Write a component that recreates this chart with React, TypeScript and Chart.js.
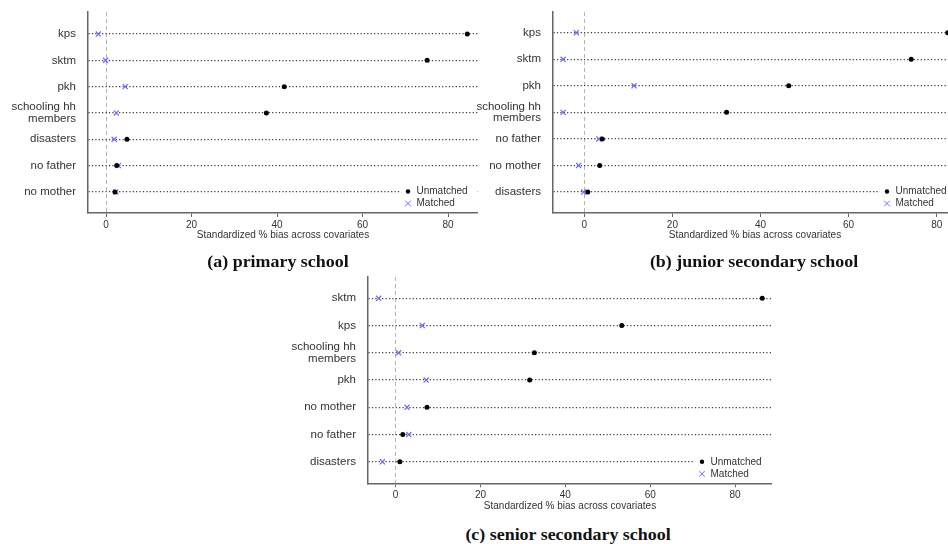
import React, { useEffect, useRef } from 'react';
import { Chart, registerables } from 'chart.js';

Chart.register(...registerables);
Chart.defaults.font.family = '"Liberation Sans", Arial, Helvetica, sans-serif';

// ---------- data ----------
const xTicks = [0, 20, 40, 60, 80];
const seriesNames = ['Unmatched', 'Matched'];
const axisTitle = 'Standardized % bias across covariates';

// (a) primary school
const primaryCovariates: (string | string[])[] = ['kps', 'sktm', 'pkh', ['schooling hh', 'members'], 'disasters', 'no father', 'no mother'];
const primaryUnmatched = [84.5, 75.1, 41.7, 37.5, 4.9, 2.5, 2.1];
const primaryMatched = [-1.8, -0.1, 4.5, 2.4, 1.9, 2.9, 2.3];

// (b) junior secondary school
const juniorCovariates: (string | string[])[] = ['kps', 'sktm', 'pkh', ['schooling hh', 'members'], 'no father', 'no mother', 'disasters'];
const juniorUnmatched = [82.5, 74.2, 46.4, 32.3, 4.1, 3.5, 0.8];
const juniorMatched = [-1.8, -4.8, 11.3, -4.8, 3.3, -1.3, -0.15];

// (c) senior secondary school
const seniorCovariates: (string | string[])[] = ['sktm', 'kps', ['schooling hh', 'members'], 'pkh', 'no mother', 'no father', 'disasters'];
const seniorUnmatched = [86.4, 53.3, 32.7, 31.6, 7.4, 1.7, 1.0];
const seniorMatched = [-4.0, 6.3, 0.7, 7.2, 2.7, 3.1, -3.1];

const captions = ['(a) primary school', '(b) junior secondary school', '(c) senior secondary school'];

// ---------- styles ----------
const TEXT = '#333';
const AXIS = '#666';
const MATCHED_COLOR = '#6b6bff';

const insideLegend = {
  id: 'insideLegend',
  afterDraw(chart: any) {
    const { ctx, chartArea } = chart;
    const x = chartArea.right - 70;
    const y1 = chartArea.bottom - 21.5;
    const y2 = y1 + 12;
    ctx.save();
    ctx.fillStyle = '#fff';
    ctx.fillRect(x - 7, y1 - 6, chartArea.right - (x - 7) - 1, y2 + 6 - (y1 - 6));
    chart.data.datasets.forEach((ds: any, i: number) => {
      const yy = i === 0 ? y1 : y2;
      if (ds.pointStyle === 'circle') {
        ctx.beginPath();
        ctx.arc(x, yy, 2.2, 0, Math.PI * 2);
        ctx.fillStyle = ds.backgroundColor;
        ctx.fill();
      } else {
        ctx.beginPath();
        ctx.strokeStyle = ds.borderColor;
        ctx.lineWidth = 1;
        const r = 2.8;
        ctx.moveTo(x - r, yy - r);
        ctx.lineTo(x + r, yy + r);
        ctx.moveTo(x + r, yy - r);
        ctx.lineTo(x - r, yy + r);
        ctx.stroke();
      }
      ctx.fillStyle = TEXT;
      ctx.font = '10px "Liberation Sans", Arial, sans-serif';
      ctx.textBaseline = 'middle';
      ctx.textAlign = 'left';
      ctx.fillText(ds.label, x + 8.5, yy);
    });
    ctx.restore();
  },
};

type PanelProps = {
  left: number; top: number; width: number; height: number;
  labels: (string | string[])[]; unmatched: number[]; matched: number[];
  xMin: number; xMax: number; yMin: number; yMax: number;
  padTop: number; yAxisWidth: number; xAxisHeight: number;
};

function BiasPanel(p: PanelProps) {
  const ref = useRef<HTMLCanvasElement>(null);
  useEffect(() => {
    if (!ref.current) return;
    const chart = new Chart(ref.current, {
      type: 'scatter',
      data: {
        datasets: [
          {
            label: seriesNames[0],
            data: p.unmatched.map((v, i) => ({ x: v, y: i })),
            pointStyle: 'circle',
            pointRadius: 2.5,
            backgroundColor: '#000',
            borderColor: '#000',
            borderWidth: 0,
          },
          {
            label: seriesNames[1],
            data: p.matched.map((v, i) => ({ x: v, y: i })),
            pointStyle: 'crossRot',
            pointRadius: 3.6,
            backgroundColor: MATCHED_COLOR,
            borderColor: MATCHED_COLOR,
            borderWidth: 1.2,
          },
        ],
      } as any,
      options: {
        responsive: false,
        animation: false,
        layout: { autoPadding: false, padding: { top: p.padTop, left: 0, right: 0, bottom: 0 } },
        plugins: { legend: { display: false }, tooltip: { enabled: false } },
        scales: {
          x: {
            type: 'linear',
            min: p.xMin,
            max: p.xMax,
            afterBuildTicks: (s: any) => { s.ticks = xTicks.map((v) => ({ value: v })); },
            afterFit: (s: any) => {
              s.height = p.xAxisHeight;
              s.paddingLeft = 0;
              s.paddingRight = 0;
            },
            ticks: { font: { size: 10 }, color: TEXT, padding: 2, maxRotation: 0, autoSkip: false },
            grid: {
              color: (ctx: any) => (ctx.tick && ctx.tick.value === 0 ? '#b5b5b5' : 'rgba(0,0,0,0)'),
              lineWidth: 1,
              drawTicks: true,
              tickLength: 4,
              tickColor: AXIS,
              tickWidth: 1,
              tickBorderDash: [],
            },
            border: { display: true, color: AXIS, width: 1.5, dash: [4, 3] },
            title: { display: true, text: axisTitle, font: { size: 10 }, color: TEXT, padding: { top: 0, bottom: 4 } },
          },
          y: {
            type: 'linear',
            reverse: true,
            min: p.yMin,
            max: p.yMax,
            afterBuildTicks: (s: any) => { s.ticks = p.labels.map((_, i) => ({ value: i })); },
            afterFit: (s: any) => {
              s.width = p.yAxisWidth;
              s.paddingTop = 0;
              s.paddingBottom = 0;
            },
            ticks: {
              callback: (_v: any, i: number) => p.labels[i] as any,
              font: { size: 11.5, lineHeight: 1 },
              color: TEXT,
              padding: 12,
            },
            grid: { color: '#3a3a3a', lineWidth: 1.2, drawTicks: false },
            border: { display: true, color: AXIS, width: 1.5, dash: [1.2, 2.2] },
          },
        },
      } as any,
      plugins: [insideLegend],
    });
    return () => chart.destroy();
  }, []);
  return (
    <canvas
      ref={ref}
      width={p.width}
      height={p.height}
      style={{ position: 'absolute', left: p.left, top: p.top, width: p.width, height: p.height }}
    />
  );
}

function Caption({ text, cx, cy }: { text: string; cx: number; cy: number }) {
  return (
    <div
      style={{
        position: 'absolute',
        left: cx - 200,
        top: cy - 10,
        width: 400,
        height: 20,
        lineHeight: '20px',
        textAlign: 'center',
        fontFamily: '"Liberation Serif", "Times New Roman", serif',
        fontWeight: 'bold',
        fontSize: 16,
        color: '#111',
        transform: 'scaleX(1.12)',
        whiteSpace: 'nowrap',
      }}
    >
      {text}
    </div>
  );
}

export default function App() {
  return (
    <div style={{ position: 'absolute', left: 0, top: 0, width: 948, height: 544, overflow: 'hidden', background: '#fff' }}>
      <BiasPanel
        left={0} top={0} width={478} height={245}
        labels={primaryCovariates} unmatched={primaryUnmatched} matched={primaryMatched}
        xMin={-4.21} xMax={87.0} yMin={-0.836} yMax={6.8}
        padTop={12} yAxisWidth={88} xAxisHeight={32}
      />
      <BiasPanel
        left={470} top={0} width={487} height={245}
        labels={juniorCovariates} unmatched={juniorUnmatched} matched={juniorMatched}
        xMin={-7.1} xMax={84.6} yMin={-0.78} yMax={6.79}
        padTop={12} yAxisWidth={83} xAxisHeight={32}
      />
      <BiasPanel
        left={280} top={270} width={492} height={246}
        labels={seniorCovariates} unmatched={seniorUnmatched} matched={seniorMatched}
        xMin={-6.5} xMax={88.7} yMin={-0.78} yMax={6.79}
        padTop={7} yAxisWidth={88} xAxisHeight={32.7}
      />
      <Caption text={captions[0]} cx={278} cy={262} />
      <Caption text={captions[1]} cx={754} cy={262} />
      <Caption text={captions[2]} cx={568} cy={535} />
    </div>
  );
}
